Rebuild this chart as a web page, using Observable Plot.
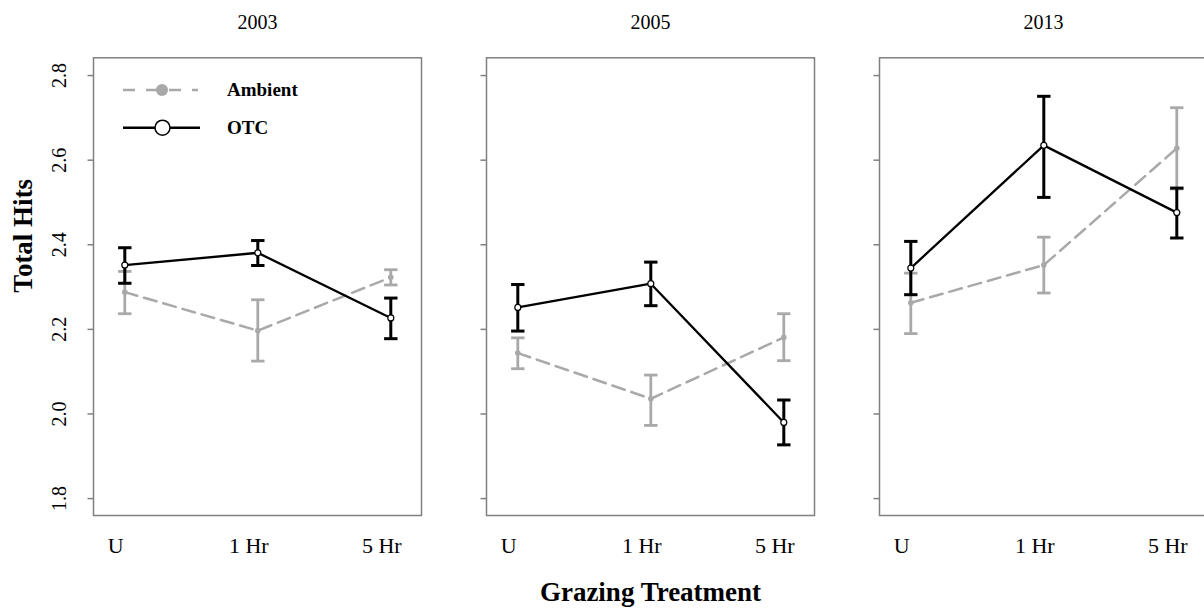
<!DOCTYPE html>
<html>
<head>
<meta charset="utf-8">
<script src="https://cdn.jsdelivr.net/npm/d3@7"></script>
<script src="https://cdn.jsdelivr.net/npm/@observablehq/plot@0.6"></script>
<style>
  html, body { margin: 0; padding: 0; background: #fff; overflow: hidden; }
  #wrap { position: relative; width: 1204px; height: 608px; overflow: hidden; }
  #wrap svg { display: block; max-width: none !important; }
  #legend { position: absolute; left: 0; top: 0; pointer-events: none; }
</style>
</head>
<body>
<div id="wrap"></div>
<script>
// ---- data ----
const years = ["2003", "2005", "2013"];
const treatments = ["U", "1 Hr", "5 Hr"];
const groups = ["Ambient", "OTC"];
const yTicks = [1.8, 2.0, 2.2, 2.4, 2.6, 2.8];

const ambientMean2003 = [2.288, 2.197, 2.323];
const ambientLow2003  = [2.237, 2.125, 2.305];
const ambientHigh2003 = [2.337, 2.270, 2.341];
const otcMean2003 = [2.352, 2.381, 2.227];
const otcLow2003  = [2.309, 2.351, 2.178];
const otcHigh2003 = [2.393, 2.410, 2.274];

const ambientMean2005 = [2.144, 2.036, 2.181];
const ambientLow2005  = [2.107, 1.973, 2.126];
const ambientHigh2005 = [2.180, 2.092, 2.237];
const otcMean2005 = [2.252, 2.308, 1.980];
const otcLow2005  = [2.196, 2.256, 1.927];
const otcHigh2005 = [2.306, 2.359, 2.033];

const ambientMean2013 = [2.263, 2.352, 2.628];
const ambientLow2013  = [2.190, 2.286, 2.532];
const ambientHigh2013 = [2.333, 2.418, 2.724];
const otcMean2013 = [2.345, 2.635, 2.476];
const otcLow2013  = [2.282, 2.512, 2.416];
const otcHigh2013 = [2.408, 2.751, 2.534];

// ---- table built from the arrays ----
const source = {
  "2003": {Ambient: [ambientMean2003, ambientLow2003, ambientHigh2003], OTC: [otcMean2003, otcLow2003, otcHigh2003]},
  "2005": {Ambient: [ambientMean2005, ambientLow2005, ambientHigh2005], OTC: [otcMean2005, otcLow2005, otcHigh2005]},
  "2013": {Ambient: [ambientMean2013, ambientLow2013, ambientHigh2013], OTC: [otcMean2013, otcLow2013, otcHigh2013]}
};
const rows = [];
for (const year of years) for (const group of groups) {
  const [m, lo, hi] = source[year][group];
  treatments.forEach((t, j) => rows.push({year, group, treatment: t, mean: m[j], lo: lo[j], hi: hi[j]}));
}
const amb = rows.filter(d => d.group === "Ambient");
const otc = rows.filter(d => d.group === "OTC");

const GRAY = "#a9a9a9";
const FRAME = "#808080";
const FONT = "Liberation Serif, Times New Roman, serif";

// horizontal cap symbol for error bars
const cap = {draw(ctx, size) { const r = Math.sqrt(size / Math.PI); ctx.moveTo(-r, 0); ctx.lineTo(r, 0); }};

const chart = Plot.plot({
  width: 1208,
  height: 608,
  marginLeft: 92.7,
  marginRight: 0.7,
  marginTop: 57.3,
  marginBottom: 93,
  style: {fontFamily: FONT, background: "white", color: "black", overflow: "visible"},
  fx: {domain: years, paddingInner: 0.166, paddingOuter: 0, axis: null, label: null},
  x: {type: "point", domain: treatments, padding: 0.224, axis: null, label: null},
  y: {domain: [1.76, 2.842], axis: null, label: null},
  marks: [
    Plot.frame({stroke: FRAME, strokeWidth: 1.5}),
    // tick marks on every panel
    Plot.axisY({ticks: yTicks, tickSize: 5.5, tickFormat: () => "", stroke: FRAME, strokeWidth: 1.5, label: null, facetAnchor: null}),
    // rotated tick labels on the first panel
    Plot.axisY({ticks: yTicks, tickSize: 0, tickPadding: 28, tickRotate: -90, tickFormat: d3.format(".1f"), fontSize: 20, label: null}),
    // x tick labels
    Plot.axisX({tickSize: 0, tickPadding: 22, fontSize: 22, dx: -9, label: null}),
    // panel titles
    Plot.text(years, {fx: d => d, text: d => d, frameAnchor: "top", lineAnchor: "middle", dy: -35.4, fontSize: 20}),
    // axis titles
    Plot.text(["Total Hits"], {fx: () => "2003", text: d => d, frameAnchor: "left", lineAnchor: "middle", rotate: -90, dx: -70, dy: 6, fontSize: 27, fontWeight: "bold"}),
    Plot.text(["Grazing Treatment"], {fx: () => "2005", text: d => d, frameAnchor: "bottom", lineAnchor: "middle", dy: 77, fontSize: 27, fontWeight: "bold"}),
    // Ambient
    Plot.ruleX(amb, {fx: "year", x: "treatment", y1: "lo", y2: "hi", stroke: GRAY, strokeWidth: 2.8}),
    Plot.dot(amb, {fx: "year", x: "treatment", y: "lo", symbol: cap, r: 6.7, stroke: GRAY, strokeWidth: 2.8, fill: "none"}),
    Plot.dot(amb, {fx: "year", x: "treatment", y: "hi", symbol: cap, r: 6.7, stroke: GRAY, strokeWidth: 2.8, fill: "none"}),
    Plot.line(amb, {fx: "year", x: "treatment", y: "mean", stroke: GRAY, strokeWidth: 2.5, strokeDasharray: "13,7"}),
    Plot.dot(amb, {fx: "year", x: "treatment", y: "mean", r: 2.8, fill: GRAY}),
    // OTC
    Plot.ruleX(otc, {fx: "year", x: "treatment", y1: "lo", y2: "hi", stroke: "black", strokeWidth: 3}),
    Plot.dot(otc, {fx: "year", x: "treatment", y: "lo", symbol: cap, r: 6.7, stroke: "black", strokeWidth: 3, fill: "none"}),
    Plot.dot(otc, {fx: "year", x: "treatment", y: "hi", symbol: cap, r: 6.7, stroke: "black", strokeWidth: 3, fill: "none"}),
    Plot.line(otc, {fx: "year", x: "treatment", y: "mean", stroke: "black", strokeWidth: 2.3}),
    Plot.dot(otc, {fx: "year", x: "treatment", y: "mean", r: 3, fill: "white", stroke: "black", strokeWidth: 1.2})
  ]
});
const wrap = document.getElementById("wrap");
wrap.appendChild(chart);

// legend (inside the first panel)
const ns = "http://www.w3.org/2000/svg";
const lg = document.createElementNS(ns, "svg");
lg.setAttribute("id", "legend");
lg.setAttribute("width", 1204);
lg.setAttribute("height", 608);
lg.innerHTML = `
  <line x1="123" x2="198" y1="90" y2="90" stroke="${GRAY}" stroke-width="2.5" stroke-dasharray="12,11"/>
  <circle cx="162" cy="90" r="6" fill="${GRAY}"/>
  <text x="227" y="90" dy="0.34em" font-family="${FONT}" font-weight="bold" font-size="19">${groups[0]}</text>
  <line x1="123" x2="200" y1="127.7" y2="127.7" stroke="black" stroke-width="2.5"/>
  <circle cx="162.5" cy="127.7" r="7.5" fill="white" stroke="black" stroke-width="1.5"/>
  <text x="227" y="127.7" dy="0.34em" font-family="${FONT}" font-weight="bold" font-size="19">${groups[1]}</text>`;
wrap.appendChild(lg);
</script>
</body>
</html>
